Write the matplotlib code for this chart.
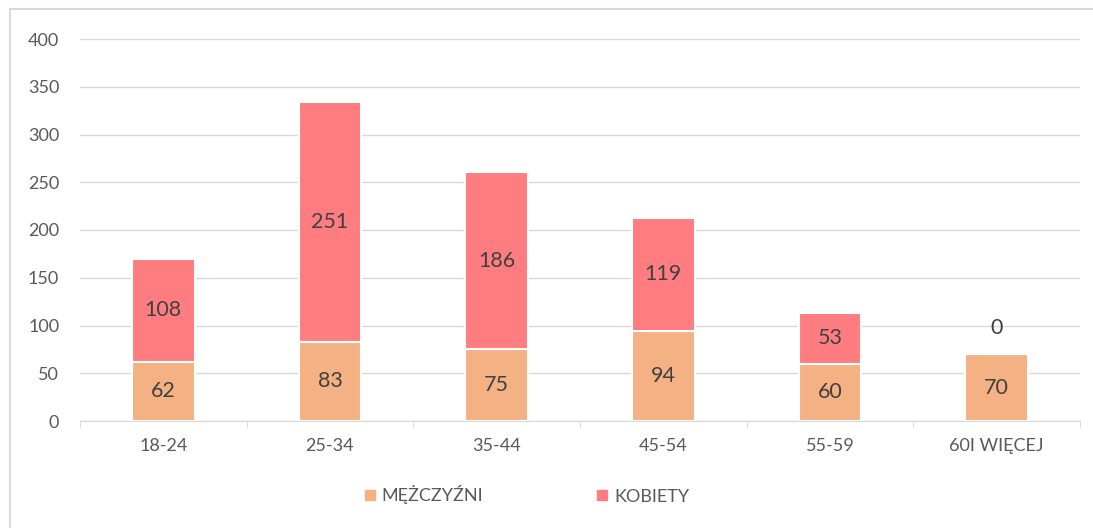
import matplotlib.pyplot as plt
from matplotlib.lines import Line2D
import numpy as np

categories = ["18-24", "25-34", "35-44", "45-54", "55-59", "60I WIĘCEJ"]
men = [62, 83, 75, 94, 60, 70]
women = [108, 251, 186, 119, 53, 0]

c_men = "#F4B183"
c_women = "#FF7C80"
grey = "#595959"

plt.rcParams["font.family"] = ["Lato", "DejaVu Sans"]

fig = plt.figure(figsize=(10.93, 5.28), dpi=100)
ax = fig.add_axes([80 / 1093, 1 - 421 / 528, 1000 / 1093, 382 / 528])

x = np.arange(len(categories))
w = 0.375
ax.bar(x, men, w, color=c_men, edgecolor="white", linewidth=1.5, zorder=3)
ax.bar(x, women, w, bottom=men, color=c_women, edgecolor="white", linewidth=1.5, zorder=3)

for i in range(len(categories)):
    ax.text(x[i], men[i] / 2, str(men[i]), ha="center", va="center", fontsize=15.5, color="#404040", zorder=4)
    if women[i] > 0:
        ax.text(x[i], men[i] + women[i] / 2, str(women[i]), ha="center", va="center", fontsize=15.5, color="#404040", zorder=4)
    else:
        ax.annotate(str(women[i]), (x[i], men[i]), xytext=(0, 19), textcoords="offset points",
                    ha="center", va="center", fontsize=15.5, color="#404040", zorder=4)

ax.set_xlim(-0.5, len(categories) - 0.5)
ax.set_ylim(0, 400)
ax.set_yticks(range(0, 401, 50))
ax.set_xticks(x)
ax.set_xticklabels(categories)
ax.grid(axis="y", color="#D9D9D9", linewidth=1, zorder=0)
for s in ["top", "right", "left"]:
    ax.spines[s].set_visible(False)
ax.spines["bottom"].set_color("#D9D9D9")
ax.tick_params(axis="y", length=0, labelsize=13, labelcolor=grey, pad=15)
ax.tick_params(axis="x", length=0, labelsize=13, labelcolor=grey, pad=12)
# category separator ticks
ax.set_xticks(np.arange(-0.5, len(categories)), minor=True)
ax.tick_params(axis="x", which="minor", length=5, color="#D9D9D9")

handles = [Line2D([], [], marker="s", linestyle="none", markersize=7, color=c_men),
           Line2D([], [], marker="s", linestyle="none", markersize=7, color=c_women)]
fig.legend(handles, ["MĘŻCZYŹNI", "KOBIETY"], loc="center", bbox_to_anchor=(0.482, 1 - 495 / 528),
           ncol=2, frameon=False, fontsize=13, labelcolor=grey, columnspacing=6.3,
           handlelength=0.6, handletextpad=0.35)

# chart border
fig.add_artist(Line2D([10 / 1093, 10 / 1093], [0, 1 - 9 / 528], color="#D9D9D9", lw=1.5))
fig.add_artist(Line2D([10 / 1093, 1], [1 - 9 / 528, 1 - 9 / 528], color="#D9D9D9", lw=1.5))

fig.savefig("out.png", dpi=100)
